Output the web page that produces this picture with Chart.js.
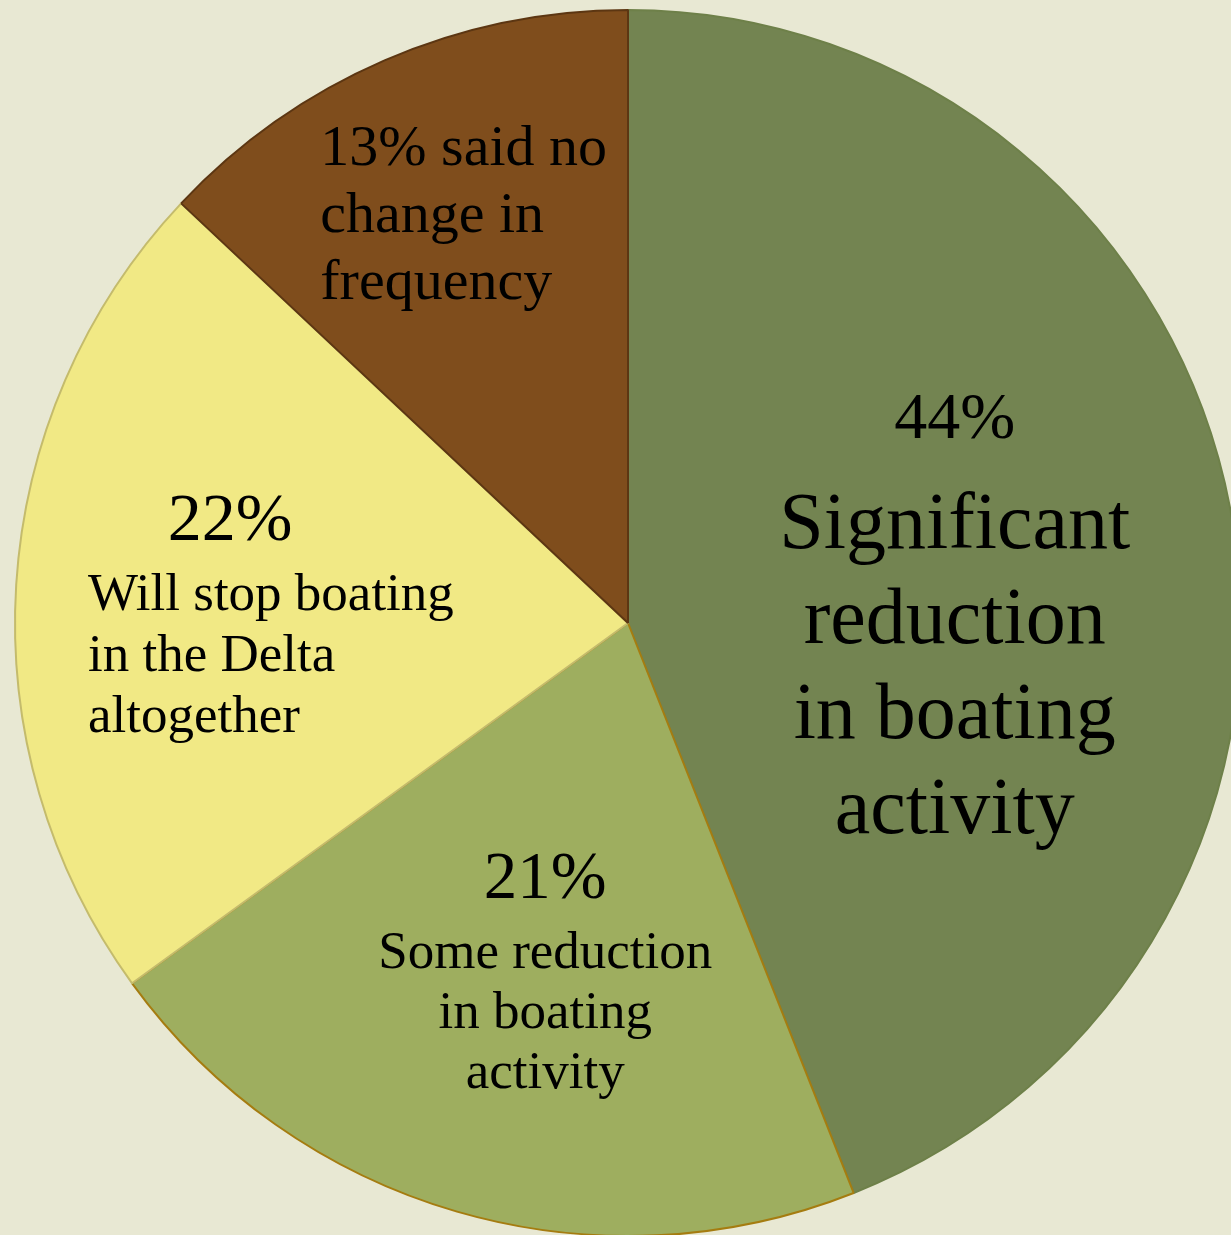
<!DOCTYPE html>
<html>
<head>
<meta charset="utf-8">
<script src="https://cdn.jsdelivr.net/npm/chart.js@4/dist/chart.umd.min.js"></script>
<style>
  html, body { margin: 0; padding: 0; background: #e8e8d3; overflow: hidden; width: 1231px; height: 1235px; }
  #wrap { position: absolute; left: 0; top: 0; width: 1256px; height: 1246px; }
</style>
</head>
<body>
<div id="wrap"><canvas id="myChart"></canvas></div>
<script>
// categories and values, clockwise from 12 o'clock
var categories = [
  "Significant reduction in boating activity",
  "Some reduction in boating activity",
  "Will stop boating in the Delta altogether",
  "No change in frequency",
];
var values = [44, 21, 22, 13];

// label text for each slice (the first line carries the percentage)
var labelLines = [
  [values[0] + "%", "Significant", "reduction", "in boating", "activity"],
  [values[1] + "%", "Some reduction", "in boating", "activity"],
  [values[2] + "%", "Will stop boating", "in the Delta", "altogether"],
  [values[3] + "% said no", "change in", "frequency"],
];

var fillColors = ["#738451", "#9eae5f", "#f1e985", "#7f4d1c"];
var edgeColors = ["#6e8049", "#a57c10", "#c4bb6c", "#5c3612"];

// where the labels sit, as fractions of the radius from the pie centre
var labelStyle = [
  { fx: 0.533, fy: -0.302, align: "center", firstSize: 66, size: 80, firstGap: 110, gap: 95 },
  { fx: -0.135, fy: 0.449, align: "center", firstSize: 67, size: 53, firstGap: 70, gap: 60 },
  { fx: -0.881, fy: -0.135, align: "left", firstFx: -0.649, firstAlign: "center", firstSize: 68, size: 53, firstGap: 70, gap: 61 },
  { fx: -0.502, fy: -0.747, align: "left", firstSize: 58, size: 58, firstGap: 67, gap: 67 },
];

var sliceLabels = {
  id: "sliceLabels",
  afterDatasetsDraw: function (chart) {
    var ctx = chart.ctx;
    var arc = chart.getDatasetMeta(0).data[0];
    var cx = arc.x, cy = arc.y, r = arc.outerRadius;
    ctx.save();
    ctx.fillStyle = "#000";
    ctx.textBaseline = "alphabetic";
    labelLines.forEach(function (lines, i) {
      var st = labelStyle[i];
      var y = cy + st.fy * r;
      lines.forEach(function (txt, j) {
        var size = j === 0 ? st.firstSize : st.size;
        var x = cx + (j === 0 && st.firstFx !== undefined ? st.firstFx : st.fx) * r;
        ctx.font = size + 'px "Liberation Serif"';
        ctx.textAlign = j === 0 && st.firstAlign ? st.firstAlign : st.align;
        if (j > 0) y += j === 1 ? st.firstGap : st.gap;
        ctx.fillText(txt, x, y);
      });
    });
    ctx.restore();
  },
};

var ctx = document.getElementById("myChart").getContext("2d");
var myChart = new Chart(ctx, {
  type: "pie",
  data: {
    labels: categories,
    datasets: [
      {
        data: values,
        backgroundColor: fillColors,
        borderColor: edgeColors,
        borderWidth: 2,
      },
    ],
  },
  options: {
    responsive: true,
    maintainAspectRatio: false,
    animation: false,
    layout: { padding: 9 },
    plugins: {
      legend: { display: false },
      tooltip: { enabled: false },
    },
  },
  plugins: [sliceLabels],
});
</script>
</body>
</html>
